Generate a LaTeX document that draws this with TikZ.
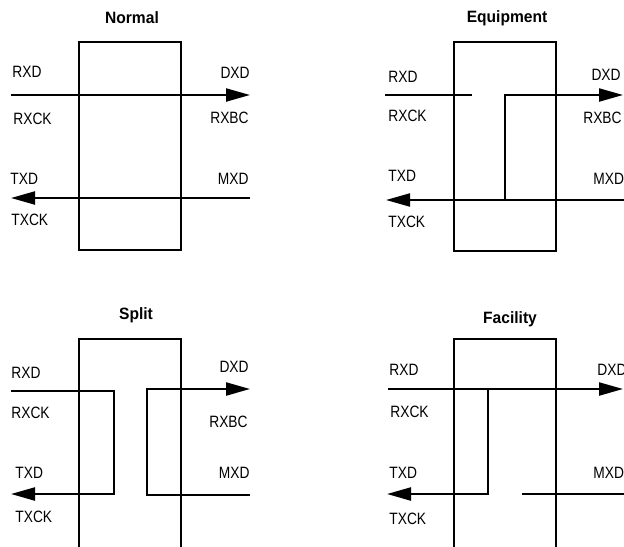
\documentclass[tikz,border=0pt]{standalone}
\usepackage{fontspec}
\setmainfont{Liberation Sans}[FakeStretch=0.84]
\newfontfamily\titlefont{Liberation Sans}[FakeStretch=0.95]
\usetikzlibrary{positioning,arrows.meta}

\begin{document}
\begin{tikzpicture}[
  x=0.5pt,
  y=-0.5pt,
  >={Triangle[length=12pt,width=6.5pt]},
  font=\fontsize{8.2}{9.5}\selectfont,
  unit/.style={
    rectangle,
    draw,
    line width=0.9pt,
    minimum width=51pt,
    inner sep=0pt
  },
  title/.style={
    font=\titlefont\fontsize{8.2}{9.5}\selectfont\bfseries
  },
  lbl/.style={inner sep=0pt},
  sig/.style={line width=1.1pt}
]
\clip (0,0) rectangle (624,546);

% Normal
\node[title] (normaltitle) at (132,18) {Normal};
\node[unit, minimum height=104pt] (normal) at (130,146) {};
\node[lbl, anchor=west] (n-rxd) at (12,72) {RXD};
\node[lbl, anchor=west] (n-rxck) at (13,119) {RXCK};
\node[lbl, anchor=west] (n-txd) at (10,179) {TXD};
\node[lbl, anchor=west] (n-txck) at (11,220) {TXCK};
\node[lbl, anchor=east] (n-dxd) at (250,73) {DXD};
\node[lbl, anchor=east] (n-rxbc) at (249,118) {RXBC};
\node[lbl, anchor=east] (n-mxd) at (249,179) {MXD};
\coordinate (n-rin) at (11,95);
\coordinate (n-rout) at (250,95);
\coordinate (n-tin) at (250,198);
\coordinate (n-tout) at (11,198);
\draw[sig,->] (n-rin) -- (n-rout);
\draw[sig,->] (n-tin) -- (n-tout);

% Equipment
\node[title] (equiptitle) at (507,18) {Equipment};
\node[unit, minimum height=104.5pt] (equip) at (505,146.5) {};
\node[lbl, anchor=west] (e-rxd) at (388,77) {RXD};
\node[lbl, anchor=west] (e-rxck) at (388,116) {RXCK};
\node[lbl, anchor=west] (e-txd) at (388,176) {TXD};
\node[lbl, anchor=west] (e-txck) at (388,222) {TXCK};
\node[lbl, anchor=east] (e-dxd) at (621,75) {DXD};
\node[lbl, anchor=east] (e-rxbc) at (622,118) {RXBC};
\node[lbl, anchor=west] (e-mxd) at (593,179) {MXD};
\coordinate (e-rin) at (385,95);
\coordinate (e-rend) at (472,95);
\coordinate (e-loop) at (505,200);
\coordinate (e-rout) at (623,95);
\coordinate (e-tin) at (624,200);
\coordinate (e-tout) at (386,200);
\draw[sig] (e-rin) -- (e-rend);
\draw[sig,->] (e-loop) |- (e-rout);
\draw[sig,->] (e-tin) -- (e-tout);

% Split
\node[title] (splittitle) at (136,315) {Split};
\node[unit, minimum height=110.5pt] (split) at (130,449.5) {};
\node[lbl, anchor=west] (s-rxd) at (11,373) {RXD};
\node[lbl, anchor=west] (s-rxck) at (11,413) {RXCK};
\node[lbl, anchor=west] (s-txd) at (15,473) {TXD};
\node[lbl, anchor=west] (s-txck) at (15,517) {TXCK};
\node[lbl, anchor=east] (s-dxd) at (249,367) {DXD};
\node[lbl, anchor=east] (s-rxbc) at (248,422) {RXBC};
\node[lbl, anchor=east] (s-mxd) at (250,473) {MXD};
\coordinate (s-rin) at (11,391);
\coordinate (s-turnl) at (114,494);
\coordinate (s-tout) at (11,494);
\coordinate (s-tin) at (250,495);
\coordinate (s-turnr) at (147,495);
\coordinate (s-rout) at (250,389);
\draw[sig,->] (s-rin) -| (s-turnl) -- (s-tout);
\draw[sig,->] (s-tin) -- (s-turnr) |- (s-rout);

% Facility
\node[title] (faciltitle) at (510,319) {Facility};
\node[unit, minimum height=110.5pt] (facil) at (505,449.5) {};
\node[lbl, anchor=west] (f-rxd) at (389,370) {RXD};
\node[lbl, anchor=west] (f-rxck) at (390,412) {RXCK};
\node[lbl, anchor=west] (f-txd) at (389,473) {TXD};
\node[lbl, anchor=west] (f-txck) at (389,519) {TXCK};
\node[lbl, anchor=west] (f-dxd) at (597,370) {DXD};
\node[lbl, anchor=west] (f-mxd) at (593,473) {MXD};
\coordinate (f-rin) at (388,389);
\coordinate (f-rout) at (623,389);
\coordinate (f-tap) at (488,389);
\coordinate (f-tout) at (387,494);
\coordinate (f-tin) at (624,494);
\coordinate (f-tend) at (522,494);
\draw[sig,->] (f-rin) -- (f-rout);
\draw[sig,->] (f-tap) |- (f-tout);
\draw[sig] (f-tin) -- (f-tend);

\end{tikzpicture}
\end{document}
